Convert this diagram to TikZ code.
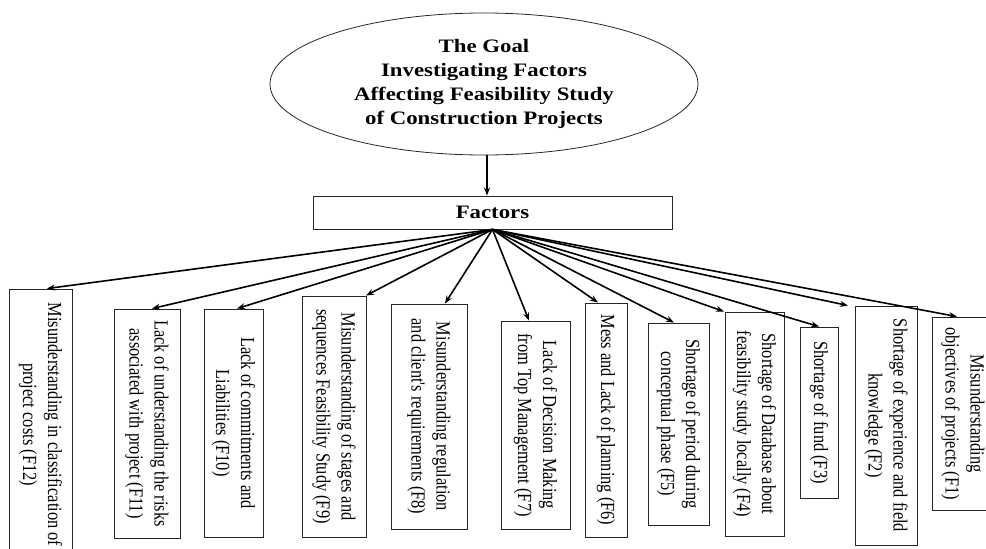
\documentclass[tikz,border=0pt]{standalone}
\usepackage{fontspec}
\setmainfont{Liberation Serif}
\newfontfamily\condfont[FakeStretch=0.82]{Liberation Serif}
\newfontfamily\widefont[FakeStretch=1.2]{Liberation Serif}
\usetikzlibrary{shapes.geometric,arrows.meta}
\begin{document}
\begin{tikzpicture}[x=1pt,y=-1pt,
  fbox/.style={draw=black!85, line width=0.9pt, rotate=-90, align=center, inner sep=0pt,
               font=\condfont\fontsize{20}{25}\selectfont},
  arr/.style={line width=1.6pt, -{Stealth[length=8pt,width=6pt]}}]
\useasboundingbox (0,0) rectangle (986,549);
\clip (0,0) rectangle (986,549);

\node[ellipse, draw=black!85, line width=0.8pt, minimum width=428, minimum height=142, inner sep=0pt,
      align=center, font=\widefont\bfseries\fontsize{19}{24}\selectfont] (goal) at (484,84)
  {The Goal\\Investigating Factors\\Affecting Feasibility Study\\of Construction Projects};

\node[draw=black!85, line width=0.9pt, minimum width=359, minimum height=33, inner sep=0pt,
      font=\widefont\bfseries\fontsize{19}{24}\selectfont] (fac) at (492.5,212.5) {Factors};

\draw[arr] (goal.south -| 487,0) -- (fac.north -| 487,0);

\node[fbox, minimum width=271, minimum height=63] (f12) at (40.5,424.5)
  {Misunderstanding in classification of\\project costs (F12)};
\node[fbox, minimum width=229, minimum height=66] (f11) at (147,423.5)
  {Lack of understanding the risks\\associated with project (F11)};
\node[fbox, minimum width=228, minimum height=59] (f10) at (233.5,423)
  {Lack of commitments and\\Liabilities (F10)};
\node[fbox, minimum width=241, minimum height=64] (f9) at (334,416.5)
  {Misunderstanding of stages and\\sequences Feasibility Study (F9)};
\node[fbox, minimum width=225, minimum height=76] (f8) at (429,416.5)
  {Misunderstanding regulation\\and client's requirements (F8)};
\node[fbox, minimum width=208, minimum height=69] (f7) at (535.5,425)
  {Lack of Decision Making\\from Top Management (F7)};
\node[fbox, minimum width=234, minimum height=42] (f6) at (606,420)
  {Mess and Lack of planning (F6)};
\node[fbox, minimum width=202, minimum height=61] (f5) at (678.5,424)
  {Shortage of period during\\conceptual phase (F5)};
\node[fbox, minimum width=224, minimum height=59] (f4) at (754.5,424)
  {Shortage of Database about\\feasibility study locally (F4)};
\node[fbox, minimum width=171, minimum height=38] (f3) at (819,412.5)
  {Shortage of fund (F3)};
\node[fbox, minimum width=239, minimum height=62] (f2) at (886,425.5)
  {Shortage of experience and field\\knowledge (F2)};
\node[fbox, minimum width=193, minimum height=62] (f1) at (963,413.5)
  {Misunderstanding\\objectives of projects (F1)};

\draw[arr] (fac.south) -- (f12.west -| 47,0);
\draw[arr] (fac.south) -- (f11.west -| 152,0);
\draw[arr] (fac.south) -- (f10.west -| 237,0);
\draw[arr] (fac.south) -- (f9.west -| 366,0);
\draw[arr] (fac.south) -- (f8.west -| 445,0);
\draw[arr] (fac.south) -- (f7.west -| 529,0);
\draw[arr] (fac.south) -- (f6.west -| 598,0);
\draw[arr] (fac.south) -- (f5.west -| 674,0);
\draw[arr] (fac.south) -- (f4.west -| 724,0);
\draw[arr] (fac.south) -- (f3.west -| 819,0);
\draw[arr] (fac.south) -- (f2.west -| 848,0);
\draw[arr] (fac.south) -- (f1.west -| 957,0);
\end{tikzpicture}
\end{document}
